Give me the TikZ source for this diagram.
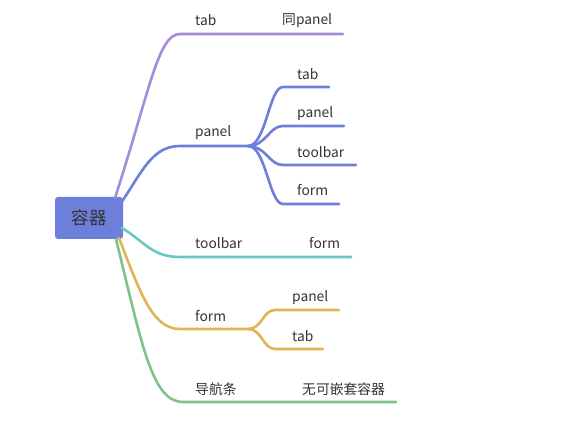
\documentclass[tikz,border=0pt]{standalone}
\usepackage{fontspec}
\setmainfont{Noto Sans CJK SC}
\definecolor{cpurple}{HTML}{A68BDB}
\definecolor{cblue}{HTML}{6C7FDB}
\definecolor{cteal}{HTML}{6BC6C6}
\definecolor{cyellow}{HTML}{E0B456}
\definecolor{cgreen}{HTML}{7CC48B}
\definecolor{ctext}{HTML}{333333}
\tikzset{
  lbl/.style={anchor=west, inner sep=0pt, yshift=-1.5pt, text=ctext, font=\fontsize{13.8}{14}\selectfont},
  br/.style={line width=2.6pt, line cap=round},
}
\begin{document}
\begin{tikzpicture}[x=1pt,y=-1pt]
\useasboundingbox (0,0) rectangle (573,422);
% root
\node[fill=cblue, rounded corners=3pt, minimum width=68pt, minimum height=42pt, inner sep=0pt, text=ctext, font=\fontsize{17.5}{18}\selectfont] (root) at (89,218) {容器};
% coordinates
\coordinate (p0) at (115,198);
\coordinate (p1) at (180,34);
\coordinate (p2) at (343,34);
\coordinate (b0) at (121,203);
\coordinate (b1) at (180,146);
\coordinate (b2) at (248,146);
\coordinate (bt1) at (283,87);  \coordinate (bt2) at (329,87);
\coordinate (bp1) at (283,126); \coordinate (bp2) at (344,126);
\coordinate (bb1) at (283,165); \coordinate (bb2) at (356,165);
\coordinate (bf1) at (283,204); \coordinate (bf2) at (339,204);
\coordinate (t0) at (122,228);
\coordinate (t1) at (180,257);
\coordinate (t2) at (351,257);
\coordinate (y0) at (119,238);
\coordinate (y1) at (180,329);
\coordinate (y2) at (248,329);
\coordinate (yp1) at (275,310); \coordinate (yp2) at (339,310);
\coordinate (yt1) at (275,349); \coordinate (yt2) at (323,349);
\coordinate (g0) at (116,239);
\coordinate (g1) at (183,402);
\coordinate (g2) at (396,402);
% purple
\draw[br, cpurple] (p0) .. controls (150,90) and (158,34) .. (p1) -- (p2);
% blue
\draw[br, cblue] (b0) .. controls (142,172) and (152,146) .. (b1) -- (b2);
\foreach \a/\b in {bt1/bt2, bp1/bp2, bb1/bb2, bf1/bf2}{
  \draw[br, cblue] (b2) .. controls (b2 -| 266,0) and ([xshift=-14pt]\a) .. (\a) -- (\b);
}
% teal
\draw[br, cteal] (t0) .. controls (145,242) and (152,257) .. (t1) -- (t2);
% yellow
\draw[br, cyellow] (y0) .. controls (140,292) and (152,329) .. (y1) -- (y2);
\foreach \a/\b in {yp1/yp2, yt1/yt2}{
  \draw[br, cyellow] (y2) .. controls (y2 -| 262,0) and ([xshift=-12pt]\a) .. (\a) -- (\b);
}
% green
\draw[br, cgreen] (g0) .. controls (142,345) and (152,402) .. (g1) -- (g2);
% labels
\node[lbl] (l1) at (195,19) {tab};
\node[lbl] (l1b) at (282,19) {同panel};
\node[lbl] (l2) at (195,131) {panel};
\node[lbl] (l2a) at (297,73) {tab};
\node[lbl] (l2b) at (297,112) {panel};
\node[lbl] (l2c) at (297,151) {toolbar};
\node[lbl] (l2d) at (297,189) {form};
\node[lbl] (l3) at (195,242) {toolbar};
\node[lbl] (l3b) at (309,242) {form};
\node[lbl] (l4) at (195,315) {form};
\node[lbl] (l4a) at (292,296) {panel};
\node[lbl] (l4b) at (292,335) {tab};
\node[lbl] (l5) at (195,388) {导航条};
\node[lbl] (l5b) at (302,388) {无可嵌套容器};
\end{tikzpicture}
\end{document}
